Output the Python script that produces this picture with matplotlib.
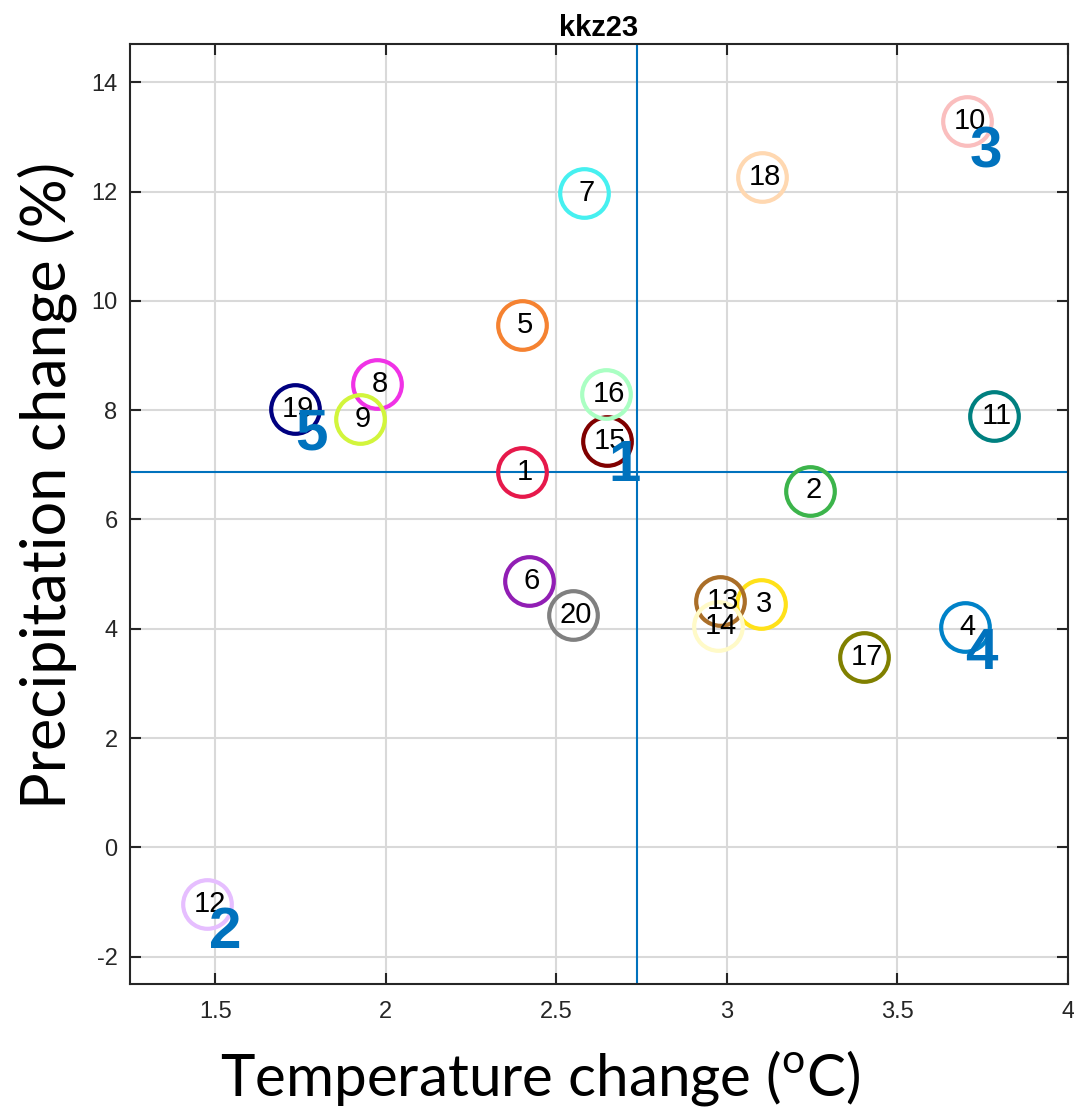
import matplotlib
matplotlib.use("Agg")
import matplotlib.pyplot as plt

# model index, warming (degC) and precipitation change (%)
models = list(range(1, 21))
temp = [2.399, 3.245, 3.100, 3.697, 2.399, 2.419, 2.582, 1.973, 1.923, 3.704,
        3.782, 1.477, 2.980, 2.974, 2.648, 2.645, 3.403, 3.103, 1.735, 2.548]
prec = [6.87, 6.53, 4.46, 4.04, 9.56, 4.88, 11.98, 8.48, 7.83, 13.30,
        7.90, -1.03, 4.51, 4.05, 7.44, 8.30, 3.49, 12.26, 8.03, 4.26]
colors = ['#e6194b', '#3cb44b', '#ffe119', '#0082c8', '#f58231', '#911eb4',
          '#46f0f0', '#f032e6', '#d2f53c', '#fabebe', '#008080', '#e6beff',
          '#aa6e28', '#fffac8', '#800000', '#aaffc3', '#808000', '#ffd8b1',
          '#000080', '#808080']

# ensemble centre lines
temp_mean = 2.736
prec_mean = 6.87

# selected models (bold blue labels)
sel_labels = ['1', '2', '3', '4', '5']
sel_x = [2.70, 1.529, 3.758, 3.747, 1.782]
sel_y = [6.98, -1.56, 12.71, 3.53, 7.55]

xticks = [1.5, 2, 2.5, 3, 3.5, 4]
xticklabels = ['1.5', '2', '2.5', '3', '3.5', '4']
yticks = [-2, 0, 2, 4, 6, 8, 10, 12, 14]
yticklabels = ['-2', '0', '2', '4', '6', '8', '10', '12', '14']

mblue = '#0072bd'
dark = '#262626'
helv = 'Liberation Sans'

plt.rcParams['mathtext.fontset'] = 'custom'
plt.rcParams['mathtext.rm'] = 'Lato'

fig = plt.figure(figsize=(10.74, 11.11), dpi=100)
ax = fig.add_axes([130 / 1074, 1 - 984 / 1111, 938 / 1074, 940 / 1111])

ax.axvline(temp_mean, color=mblue, lw=1.5, zorder=2)
ax.axhline(prec_mean, color=mblue, lw=1.5, zorder=2)

for i in range(len(models)):
    ax.plot(temp[i], prec[i], 'o', ms=35, mfc='none', mec=colors[i], mew=3, zorder=3)
    ax.annotate(str(models[i]), (temp[i], prec[i]), xytext=(2, 0), textcoords='offset points',
                ha='center', va='center', fontsize=21, family=helv, color='black', zorder=4)

for lab, x, y in zip(sel_labels, sel_x, sel_y):
    ax.text(x, y, lab, ha='center', va='center', fontsize=42, fontweight='bold',
            family=helv, color=mblue, zorder=5)

ax.set_xlim(1.25, 4.0)
ax.set_ylim(-2.5, 14.7)
ax.set_xticks(xticks)
ax.set_xticklabels(xticklabels)
ax.set_yticks(yticks)
ax.set_yticklabels(yticklabels)
ax.grid(True, color='#d9d9d9', lw=1.5, zorder=0)
ax.set_axisbelow(True)
ax.tick_params(direction='in', length=8, width=1.5, colors=dark, labelsize=17,
               top=True, right=True)
ax.tick_params(axis='x', pad=12)
ax.tick_params(axis='y', pad=9)
for lbl in ax.get_xticklabels() + ax.get_yticklabels():
    lbl.set_family(helv)
for s in ax.spines.values():
    s.set_color(dark)
    s.set_linewidth(1.5)

ax.set_title('kkz23', fontsize=21, fontweight='bold', family=helv, pad=6)

fig.text(540 / 1074, 1 - 1078 / 1111, 'Temperature change ($^{\\mathrm{o}}$C)',
         ha='center', va='center', fontsize=42, family='Lato')
fig.text(47 / 1074, 1 - 485 / 1111, 'Precipitation change (%)', rotation=90,
         ha='center', va='center', fontsize=44, family='Lato')

fig.savefig('out.png', dpi=100)
